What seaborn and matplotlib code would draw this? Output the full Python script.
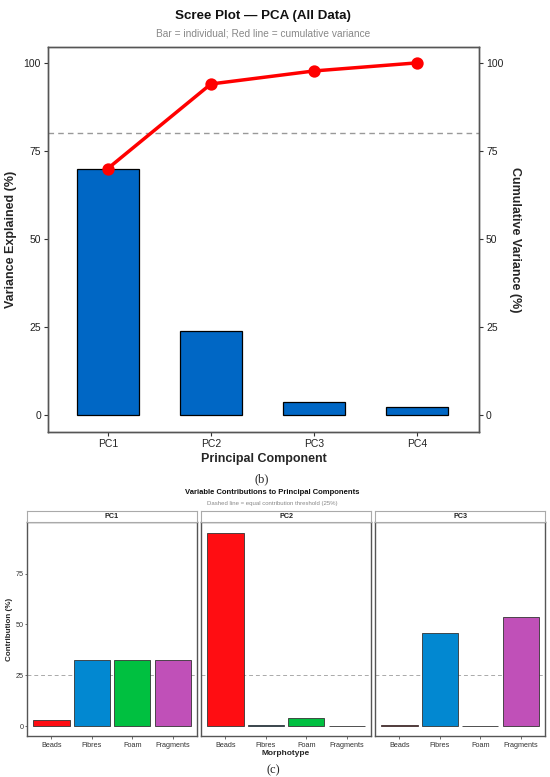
import matplotlib
matplotlib.use("Agg")
import matplotlib.pyplot as plt
import seaborn as sns
import pandas as pd

# ---- data ----
components = ["PC1", "PC2", "PC3", "PC4"]
variance = [70.0, 24.0, 3.7, 2.3]
cumulative = [70.0, 94.0, 97.7, 100.0]
morphotypes = ["Beads", "Fibres", "Foam", "Fragments"]
facet_labels = ["PC1", "PC2", "PC3"]
contrib_pc1 = [3.1, 32.3, 32.3, 32.3]
contrib_pc2 = [95.1, 0.8, 4.1, 0.05]
contrib_pc3 = [0.6, 45.7, 0.1, 53.6]
contributions = [contrib_pc1, contrib_pc2, contrib_pc3]
morph_colors = ["#FF0D12", "#0288D1", "#00C040", "#C050B8"]
threshold_cum = 80
threshold_contrib = 25

sns.set_theme(style="white")
plt.rcParams['font.family'] = ['Liberation Sans', 'DejaVu Sans']

W, H = 550, 777
fig = plt.figure(figsize=(5.5, 7.77), dpi=100)

def fx(px):
    return px / W

def fy(py):
    return 1 - py / H

# ---------------- (b) scree plot ----------------
ax = fig.add_axes([fx(48), fy(432), fx(479) - fx(48), fy(47) - fy(432)])
df = pd.DataFrame({"PC": components, "Variance": variance, "Cumulative": cumulative})
sns.barplot(data=df, x="PC", y="Variance", color="#0067C5", saturation=1,
            edgecolor="black", linewidth=0.9, width=0.6, ax=ax)
ax.axhline(threshold_cum, color="#999999", linestyle=(0, (4, 3)), linewidth=1.0, zorder=0)

ax2 = ax.twinx()
sns.pointplot(data=df, x="PC", y="Cumulative", color="#FF0000", markers="o",
              linewidth=2.5, markersize=7, ax=ax2)

ylim = (-4.8, 104.5)
for a in (ax, ax2):
    a.set_ylim(*ylim)
    a.set_xlim(-0.58, 3.6)
    a.set_yticks([0, 25, 50, 75, 100])
    for s in a.spines.values():
        s.set_color("#555555")
        s.set_linewidth(1.0)
ax.tick_params(axis="both", direction="out", length=3, width=0.8, color="#333333",
               labelsize=7.5, labelcolor="#222222", left=True, bottom=True, pad=2)
ax2.tick_params(axis="y", direction="out", length=3, width=0.8, color="#333333",
                labelsize=7.5, labelcolor="#222222", right=True, pad=2)
ax.set_xlabel("Principal Component", fontsize=9, fontweight="bold", labelpad=3)
ax.set_ylabel("Variance Explained (%)", fontsize=9, fontweight="bold", labelpad=5)
ax2.set_ylabel("Cumulative Variance (%)", fontsize=9, fontweight="bold",
               rotation=270, labelpad=13)
ax.set_xticks(range(len(components)))
ax.set_xticklabels(components)

fig.text(fx(263), fy(16), "Scree Plot — PCA (All Data)", ha="center", va="center",
         fontsize=9.6, fontweight="bold", color="#111111")
fig.text(fx(263), fy(34), "Bar = individual; Red line = cumulative variance",
         ha="center", va="center", fontsize=7.3, color="#888888")
fig.text(fx(262), fy(479), "(b)", ha="center", va="center", fontsize=9,
         family="Liberation Serif")

# ---------------- (c) contributions ----------------
fig.text(fx(272), fy(493), "Variable Contributions to Principal Components",
         ha="center", va="center", fontsize=5.5, fontweight="bold", color="#111111")
fig.text(fx(272), fy(503), "Dashed line = equal contribution threshold (25%)",
         ha="center", va="center", fontsize=4.3, color="#888888")

lefts = [27, 201, 375]
pw = 170
ptop, pbot = 522, 736
strip_top = 511
for i, (lab, vals) in enumerate(zip(facet_labels, contributions)):
    axp = fig.add_axes([fx(lefts[i]), fy(pbot), fx(pw), fy(ptop) - fy(pbot)])
    dfc = pd.DataFrame({"Morphotype": morphotypes, "Contribution": vals})
    sns.barplot(data=dfc, x="Morphotype", y="Contribution", hue="Morphotype",
                palette=morph_colors, saturation=1, legend=False,
                edgecolor="#333333", linewidth=0.6, width=0.9, ax=axp)
    axp.axhline(threshold_contrib, color="#AAAAAA", linestyle=(0, (4, 3)),
                linewidth=0.7, zorder=0)
    axp.set_ylim(-4.8, 100.3)
    axp.set_xlim(-0.6, 3.6)
    axp.set_yticks([0, 25, 50, 75])
    for s in axp.spines.values():
        s.set_color("#555555")
        s.set_linewidth(1.0)
    axp.tick_params(axis="x", direction="out", length=2, width=0.5, color="#333333",
                    labelsize=5.2, labelcolor="#333333", bottom=True, pad=2)
    if i == 0:
        axp.tick_params(axis="y", direction="out", length=1.5, width=0.5, color="#333333",
                        labelsize=5.2, labelcolor="#333333", left=True, pad=1)
        axp.set_ylabel("Contribution (%)", fontsize=5.8, fontweight="bold", labelpad=2)
    else:
        axp.set_yticklabels([])
        axp.tick_params(axis="y", left=False)
        axp.set_ylabel("")
    if i == 1:
        axp.set_xlabel("Morphotype", fontsize=6, fontweight="bold", labelpad=1)
    else:
        axp.set_xlabel("")
    # strip
    sa = fig.add_axes([fx(lefts[i]), fy(ptop), fx(pw), fy(strip_top) - fy(ptop)])
    sa.set_xticks([])
    sa.set_yticks([])
    sa.set_facecolor("white")
    for s in sa.spines.values():
        s.set_color("#AAAAAA")
        s.set_linewidth(0.8)
    sa.text(0.5, 0.5, lab, ha="center", va="center", fontsize=5.2,
            fontweight="bold", color="#222222", transform=sa.transAxes)

fig.text(fx(273), fy(770), "(c)", ha="center", va="center", fontsize=9,
         family="Liberation Serif")

fig.savefig("out.png", dpi=100)
